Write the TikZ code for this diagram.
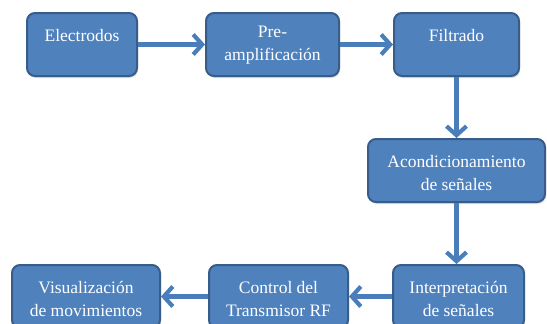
\documentclass[tikz,border=0pt]{standalone}
\usepackage{fontspec}
\setmainfont{Liberation Serif}
\usetikzlibrary{arrows.meta,shadows}
\definecolor{boxfill}{HTML}{4F81BD}
\definecolor{boxline}{HTML}{385D8A}
\definecolor{arrowcol}{HTML}{4A7EBB}
\begin{document}
\begin{tikzpicture}[x=1pt,y=-1pt,
  box/.style={draw=boxline, line width=2pt, fill=boxfill, rounded corners=8pt,
    inner sep=0pt, drop shadow={opacity=0.25, shadow xshift=1pt, shadow yshift=-2pt}},
  txt/.style={text=white, align=center, inner sep=0pt,
    font=\rmfamily\fontsize{17.5}{23}\selectfont},
  conn/.style={draw=arrowcol, line width=4.6pt,
    -{Straight Barb[length=9pt,width=20pt,line width=4.2pt]}}]
\useasboundingbox (0,0) rectangle (547,324);
\clip (0,0) rectangle (547,324);
% boxes
\node[box, minimum width=110pt, minimum height=63pt] (E) at (82,44.5) {};
\node[box, minimum width=133pt, minimum height=63pt] (P) at (272.5,44.5) {};
\node[box, minimum width=125pt, minimum height=63pt] (F) at (456.5,44.5) {};
\node[box, minimum width=177pt, minimum height=63pt] (A) at (456.5,170.5) {};
\node[box, minimum width=131pt, minimum height=63pt] (I) at (458.5,296.5) {};
\node[box, minimum width=139pt, minimum height=63pt] (C) at (278.5,296.5) {};
\node[box, minimum width=148pt, minimum height=63pt] (V) at (86,296.5) {};
% texts
\node[txt] (tE) at (82,36) {Electrodos};
\node[txt] (tP) at (272.5,45.5) {Pre-\\amplificación};
\node[txt] (tF) at (456.5,36) {Filtrado};
\node[txt] (tA) at (456.5,173.5) {Acondicionamiento\\de señales};
\node[txt] (tI) at (458.5,299) {Interpretación\\de señales};
\node[txt] (tC) at (278.5,299) {Control del\\Transmisor RF};
\node[txt] (tV) at (86,299) {Visualización\\de movimientos};
% connectors
\draw[conn] (E.east) -- (P.west);
\draw[conn] (P.east) -- (F.west);
\draw[conn] (F.south) -- (F.south |- A.north);
\draw[conn] (A.south) -- (A.south |- I.north);
\draw[conn] (I.west) -- (C.east);
\draw[conn] (C.west) -- (V.east);
\end{tikzpicture}
\end{document}
